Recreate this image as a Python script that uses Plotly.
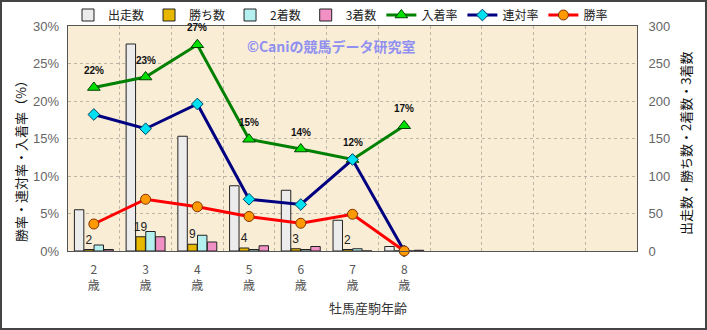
import plotly.graph_objects as go

ages = ["2", "3", "4", "5", "6", "7", "8"]
n_slots = 11
starts = [55, 276, 153, 87, 81, 41, 6]
wins = [2, 19, 9, 4, 3, 2, 0]
seconds = [8, 26, 21, 2, 2, 3, 0]
thirds = [2, 19, 12, 7, 6, 0, 1]
place_rate = [21.8, 23.2, 27.5, 14.9, 13.6, 12.2, 16.7]
rentai_rate = [18.2, 16.3, 19.6, 6.9, 6.2, 12.2, 0.0]
win_rate = [3.6, 6.9, 5.9, 4.6, 3.7, 4.9, 0.0]
place_labels = ["22%", "23%", "27%", "15%", "14%", "12%", "17%"]
win_labels = ["2", "19", "9", "4", "3", "2", ""]
pct_ticks = [0, 5, 10, 15, 20, 25, 30]
cnt_ticks = [0, 50, 100, 150, 200, 250, 300]

x = list(range(len(ages)))
FONT = "Liberation Sans, Arial, Noto Sans CJK JP"
JP = "Noto Sans CJK JP, Liberation Sans"

fig = go.Figure()

def bar(name, vals, color, text=None):
    fig.add_trace(go.Bar(
        x=x, y=vals, name=name, yaxis="y",
        marker=dict(color=color, line=dict(color="#222", width=1)),
        text=text, textposition="outside" if text else None,
        textfont=dict(size=12, color="#222", family=FONT),
        constraintext="none", cliponaxis=False,
    ))

bar("出走数", starts, "#ececec")
bar("勝ち数", wins, "#e8b800", win_labels)
bar("2着数", seconds, "#b4f0f0")
bar("3着数", thirds, "#f090c4")

fig.add_trace(go.Scatter(
    x=x, y=place_rate, name="入着率", yaxis="y2", mode="lines+markers",
    line=dict(color="#008000", width=3),
    marker=dict(symbol="triangle-up", size=11, color="#00e000", line=dict(color="#004000", width=1)),
    cliponaxis=False))
fig.add_trace(go.Scatter(
    x=x, y=rentai_rate, name="連対率", yaxis="y2", mode="lines+markers",
    line=dict(color="#000080", width=3),
    marker=dict(symbol="diamond", size=9, color="#00e0f0", line=dict(color="#004060", width=1)),
    cliponaxis=False))
fig.add_trace(go.Scatter(
    x=x, y=win_rate, name="勝率", yaxis="y2", mode="lines+markers",
    line=dict(color="#ff0000", width=3),
    marker=dict(symbol="circle", size=10, color="#ff9900", line=dict(color="#803000", width=1)),
    cliponaxis=False))

annotations = []
for xi, yi, t in zip(x, place_rate, place_labels):
    annotations.append(dict(x=xi, y=yi, xref="x", yref="y2", text="<b>" + t + "</b>",
                            showarrow=False, yshift=17,
                            font=dict(size=10, color="#111", family=FONT)))

L, R, T, B = 68, 70, 26, 79
W, H = 707, 330
pw, ph = W - L - R, H - T - B

def px(v):
    return (v - L) / pw

def py(v):
    return (ph - (v - T)) / ph

annotations += [
    dict(x=px(245), y=py(46), xref="paper", yref="paper", xanchor="left", yanchor="middle",
         text="<b>©Caniの競馬データ研究室</b>", showarrow=False,
         font=dict(size=14, color="#9090f0", family=JP)),
    dict(x=px(20), y=py(158), xref="paper", yref="paper", xanchor="center", yanchor="middle",
         text="勝率・連対率・入着率（%）", textangle=-90, showarrow=False,
         font=dict(size=13, color="#111", family=JP)),
    dict(x=px(685), y=py(144), xref="paper", yref="paper", xanchor="center", yanchor="middle",
         text="出走数・勝ち数・2着数・3着数", textangle=-90, showarrow=False,
         font=dict(size=13, color="#111", family=JP)),
    dict(x=px(368), y=py(307), xref="paper", yref="paper", xanchor="center", yanchor="middle",
         text="牡馬産駒年齢", showarrow=False,
         font=dict(size=13, color="#333", family=JP)),
]

fig.update_layout(
    width=W, height=H,
    margin=dict(l=L, r=R, t=T, b=B, autoexpand=False),
    paper_bgcolor="white",
    plot_bgcolor="#f9edd6",
    barmode="group", bargap=0.24, bargroupgap=0.04,
    font=dict(family=FONT, size=12, color="#444"),
    showlegend=True,
    legend=dict(orientation="h", x=px(68), xanchor="left",
                y=py(15), yanchor="middle",
                font=dict(size=12, color="#222", family=JP),
                bgcolor="rgba(0,0,0,0)", itemwidth=30, tracegroupgap=0),
    xaxis=dict(range=[-0.5, n_slots - 0.5], tickmode="array", tickvals=x,
               ticktext=[a + "<br>歳" for a in ages],
               tickfont=dict(size=12, color="#555", family=JP),
               showgrid=False, zeroline=False, ticklabelstandoff=8,
               showline=True, linecolor="#555", linewidth=1, mirror=True,
               minor=dict(tickmode="array", tickvals=[i + 0.5 for i in range(n_slots - 1)],
                          showgrid=True, gridcolor="#bdb5a5", griddash="dot", gridwidth=1)),
    yaxis=dict(side="right", range=[0, 300], tickmode="array", tickvals=cnt_ticks,
               ticktext=[str(v) for v in cnt_ticks],
               tickfont=dict(size=13, color="#666"),
               showgrid=True, gridcolor="#bdb5a5", griddash="dot", zeroline=False,
               showline=True, linecolor="#555", linewidth=1, mirror=True, ticks="",
               ticklabelstandoff=8),
    yaxis2=dict(side="left", overlaying="y", range=[0, 30], tickmode="array",
                tickvals=pct_ticks, ticktext=[f"{v}%" for v in pct_ticks],
                tickfont=dict(size=13, color="#666"),
                showgrid=False, zeroline=False, ticks="", ticklabelstandoff=8),
    annotations=annotations,
    shapes=[dict(type="rect", xref="paper", yref="paper",
                 x0=(-L + 1) / pw, x1=1 + (R - 1) / pw,
                 y0=-(B - 1) / ph, y1=1 + (T - 1) / ph,
                 line=dict(color="#444", width=2), layer="above")],
)

fig.write_html("out.html")
